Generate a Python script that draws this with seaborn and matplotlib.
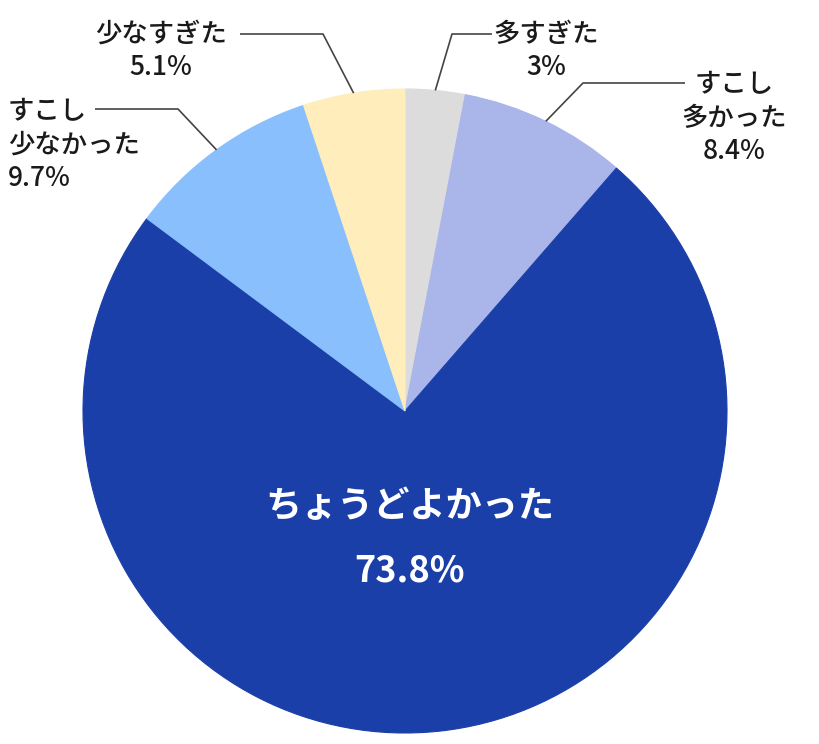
import numpy as np
import seaborn as sns
import matplotlib.pyplot as plt

# survey answers, clockwise from 12 o'clock
labels = ['多すぎた', 'すこし\n多かった', 'ちょうどよかった', 'すこし\n少なかった', '少なすぎた']
values = [3, 8.4, 73.8, 9.7, 5.1]
pct_text = ['3%', '8.4%', '73.8%', '9.7%', '5.1%']
colors = ['#dcdcdc', '#aab5ea', '#1b3fa8', '#89bffd', '#ffedbb']

sns.set_theme(style='white')
plt.rcParams['font.family'] = ['Noto Sans CJK JP', 'DejaVu Sans']

W, H = 820, 744
fig = plt.figure(figsize=(W / 100, H / 100), dpi=100)
ax = fig.add_axes([0, 0, 1, 1])

cx, cy, r = 405, H - 411, 322
pal = sns.color_palette(colors)
wedges, _ = ax.pie(values, colors=pal, startangle=90, counterclock=False,
                   center=(cx, cy), radius=r, frame=True,
                   wedgeprops=dict(linewidth=0.8))
ax.set_xlim(0, W)
ax.set_ylim(0, H)
ax.axis('off')

# outside labels: elbow point, line end, text anchor (pixel layout, y from top)
layout = {
    0: dict(elbow=(452, 34), end=(492, 34), text=(546, 51), ha='center'),
    1: dict(elbow=(583, 83), end=(685, 83), text=(734, 118), ha='center'),
    3: dict(elbow=(178, 109), end=(95, 109), text=(8, 145), ha='left'),
    4: dict(elbow=(323, 34), end=(240, 34), text=(161, 51), ha='center'),
}

for i, w in enumerate(wedges):
    w.set_edgecolor(w.get_facecolor())
    mid = np.deg2rad((w.theta1 + w.theta2) / 2)
    if i == 2:
        ax.text(cx + 5, cy - 95, labels[i], color='white', fontsize=26,
                fontweight='bold', ha='center', va='center')
        ax.text(cx + 5, cy - 160, pct_text[i], color='white', fontsize=26,
                fontweight='bold', ha='center', va='center')
        continue
    lay = layout[i]
    px, py = cx + r * np.cos(mid), cy + r * np.sin(mid)
    ex, ey = lay['elbow']
    qx, qy = lay['end']
    ax.plot([px, ex, qx], [py, H - ey, H - qy], color='#444444', lw=1.2,
            solid_capstyle='butt')
    tx, ty = lay['text']
    ax.text(tx, H - ty, labels[i] + '\n' + pct_text[i], fontsize=19,
            fontweight='medium', color='#1a1a1a', ha=lay['ha'], va='center',
            multialignment=lay['ha'], linespacing=1.3)

fig.savefig('out.png', dpi=100)
